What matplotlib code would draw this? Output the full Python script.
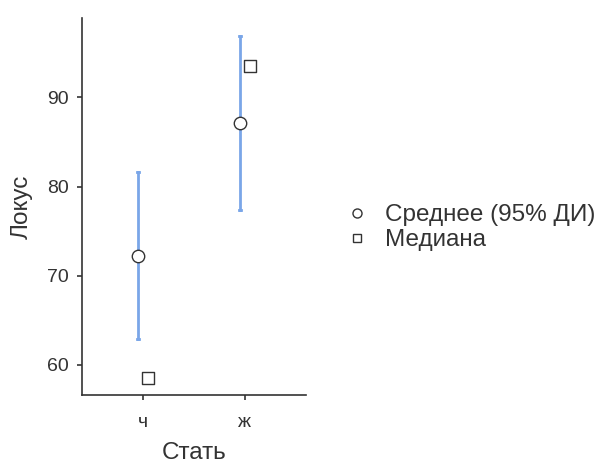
import matplotlib.pyplot as plt
from matplotlib.lines import Line2D

plt.rcParams['font.family'] = ['Liberation Sans', 'DejaVu Sans']

# данные
groups = ['ч', 'ж']
means = [72.2, 87.1]
ci_low = [62.9, 77.4]
ci_high = [81.6, 96.9]
medians = [58.5, 93.5]

text_col = '#333333'
ci_col = '#7aa6e8'

fig = plt.figure(figsize=(6.01, 4.65), dpi=100)
ax = fig.add_axes([0.1364, 0.1505, 0.3727, 0.8105])

pos = [1, 2]
off = 0.05
for i, p in enumerate(pos):
    ax.plot([p - off, p - off], [ci_low[i], ci_high[i]], color=ci_col, lw=2, zorder=1)
    ax.plot([p - off - 0.01, p - off + 0.01], [ci_low[i], ci_low[i]], color=ci_col, lw=2, zorder=1)
    ax.plot([p - off - 0.01, p - off + 0.01], [ci_high[i], ci_high[i]], color=ci_col, lw=2, zorder=1)
ax.scatter([p - off for p in pos], means, s=80, marker='o', facecolor='white',
           edgecolor=text_col, linewidths=1, zorder=3)
ax.scatter([p + off for p in pos], medians, s=70, marker='s', facecolor='white',
           edgecolor=text_col, linewidths=1, zorder=3)

ax.set_xlim(0.4, 2.6)
ax.set_ylim(56.6, 98.9)
ax.set_xticks(pos)
ax.set_xticklabels(groups)
ax.set_yticks([60, 70, 80, 90])
for s in ['top', 'right']:
    ax.spines[s].set_visible(False)
for s in ['left', 'bottom']:
    ax.spines[s].set_color(text_col)
    ax.spines[s].set_linewidth(1.2)
ax.tick_params(colors=text_col, labelsize=14, length=3.5, width=1.2)
ax.tick_params(axis='y', pad=6)
ax.tick_params(axis='x', pad=10)
ax.set_xlabel('Стать', fontsize=17.5, color=text_col, labelpad=8)
ax.set_ylabel('Локус', fontsize=17.5, color=text_col, labelpad=10)

handles = [
    Line2D([], [], marker='o', ls='none', markerfacecolor='white', markeredgecolor=text_col,
           markersize=6.5, markeredgewidth=1),
    Line2D([], [], marker='s', ls='none', markerfacecolor='white', markeredgecolor=text_col,
           markersize=5.5, markeredgewidth=1),
]
fig.legend(handles, ['Среднее (95% ДИ)', 'Медиана'], loc='center left',
           bbox_to_anchor=(0.578, 0.51), frameon=False, fontsize=17.5,
           labelcolor=text_col, handletextpad=0.75, labelspacing=0.12, handlelength=0.8,
           borderaxespad=0, borderpad=0)

fig.savefig('out.png', dpi=100)
